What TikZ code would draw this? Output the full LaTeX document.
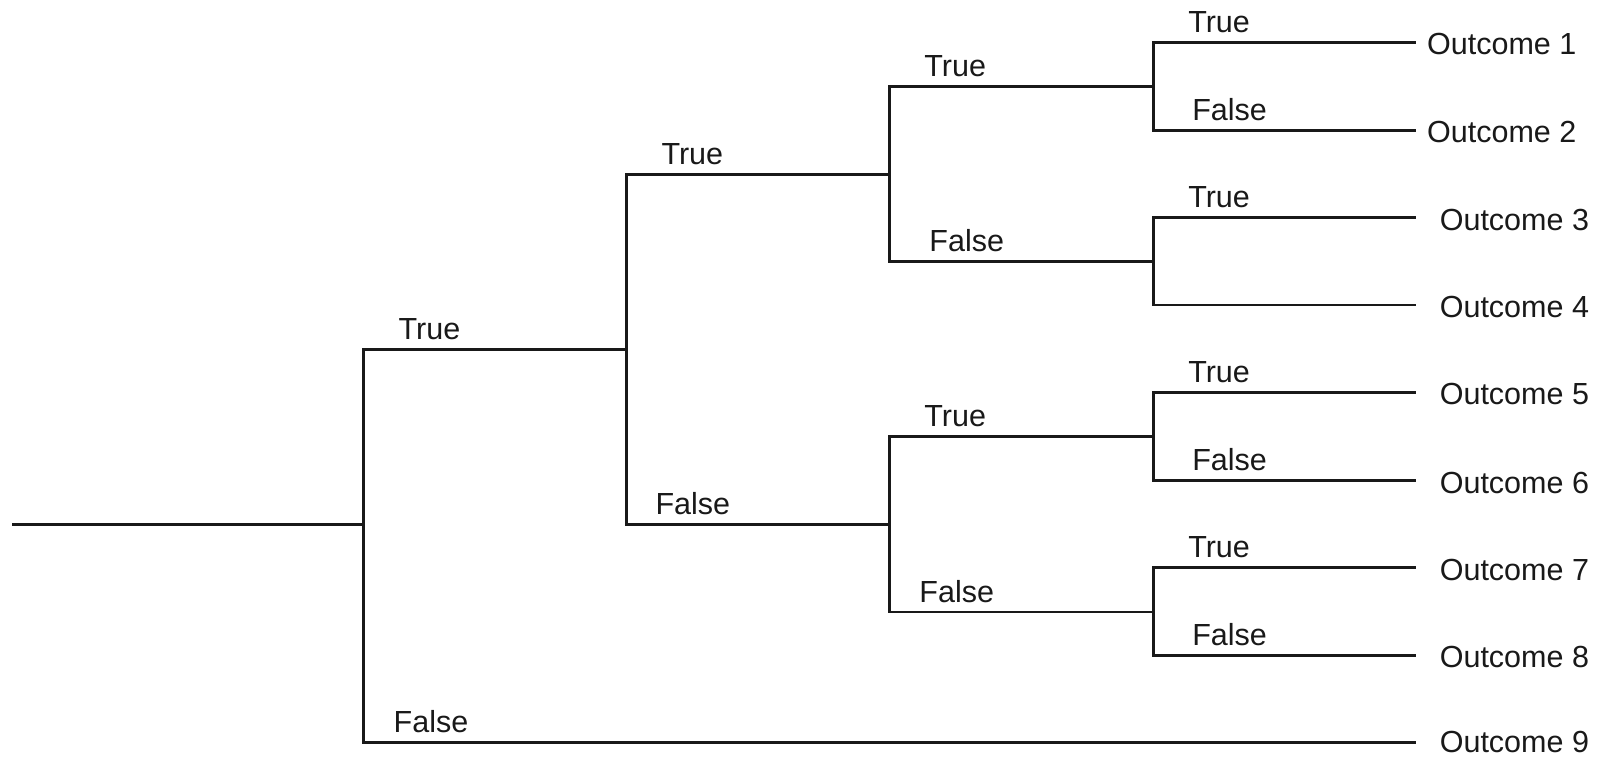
\documentclass[tikz,border=0pt]{standalone}
\usepackage{fontspec}
\setmainfont{Liberation Sans}
\begin{document}
\begin{tikzpicture}[x=1pt,y=-1pt,
  every node/.style={font=\fontsize{30.5}{36}\selectfont, inner sep=0pt, text=black!90},
  branch/.style={line width=2.8pt, line cap=rect, draw=black!90},
  lbl/.style={anchor=base west},
  outc/.style={anchor=west}]
\useasboundingbox (0,0) rectangle (1610,758);
% junction coordinates
\coordinate (r0) at (13.3,524.7);
\coordinate (a) at (363.5,524.7);
\coordinate (aT) at (363.5,349.1);
\coordinate (aF) at (363.5,742.4);
\coordinate (b) at (626.3,349.1);
\coordinate (bT) at (626.3,174.6);
\coordinate (bF) at (626.3,524.7);
\coordinate (c1) at (889.2,174.6);
\coordinate (c1T) at (889.2,86.3);
\coordinate (c1F) at (889.2,261.8);
\coordinate (c2) at (889.2,524.7);
\coordinate (c2T) at (889.2,436.4);
\coordinate (c2F) at (889.2,612.0);
\coordinate (d1) at (1153.1,86.3);
\coordinate (d1T) at (1153.1,42.1);
\coordinate (d1F) at (1153.1,130.4);
\coordinate (d2) at (1153.1,261.8);
\coordinate (d2T) at (1153.1,217.7);
\coordinate (d2F) at (1153.1,305.0);
\coordinate (d3) at (1153.1,436.4);
\coordinate (d3T) at (1153.1,392.2);
\coordinate (d3F) at (1153.1,480.5);
\coordinate (d4) at (1153.1,612.0);
\coordinate (d4T) at (1153.1,567.8);
\coordinate (d4F) at (1153.1,655.1);
% leaf ends
\coordinate (e1) at (1415,42.1);
\coordinate (e2) at (1415,130.4);
\coordinate (e3) at (1415,217.7);
\coordinate (e4) at (1415,305.0);
\coordinate (e5) at (1415,392.2);
\coordinate (e6) at (1415,480.5);
\coordinate (e7) at (1415,567.8);
\coordinate (e8) at (1415,655.1);
\coordinate (e9) at (1415,742.4);
% connectors
\draw[branch] (r0) -- (a);
\draw[branch] (aT) -- (aF);
\draw[branch] (aT) -- (b);
\draw[branch] (aF) -- (e9);
\draw[branch] (bT) -- (bF);
\draw[branch] (bT) -- (c1);
\draw[branch] (bF) -- (c2);
\draw[branch] (c1T) -- (c1F);
\draw[branch] (c2T) -- (c2F);
\draw[branch] (c1T) -- (d1);
\draw[branch] (c1F) -- (d2);
\draw[branch] (c2T) -- (d3);
\draw[branch] (c2F) -- (d4);
\draw[branch] (d1T) -- (d1F);
\draw[branch] (d2T) -- (d2F);
\draw[branch] (d3T) -- (d3F);
\draw[branch] (d4T) -- (d4F);
\draw[branch] (d1T) -- (e1);
\draw[branch] (d1F) -- (e2);
\draw[branch] (d2T) -- (e3);
\draw[branch] (d2F) -- (e4);
\draw[branch] (d3T) -- (e5);
\draw[branch] (d3F) -- (e6);
\draw[branch] (d4T) -- (e7);
\draw[branch] (d4F) -- (e8);
% branch labels
\node[lbl] (laT) at (398.5,339.1) {True};
\node[lbl] (laF) at (393.5,732.4) {False};
\node[lbl] (lbT) at (661.3,164.6) {True};
\node[lbl] (lbF) at (655.3,514.7) {False};
\node[lbl] (lc1T) at (924.2,76.3) {True};
\node[lbl] (lc1F) at (929.2,251.8) {False};
\node[lbl] (lc2T) at (924.2,426.4) {True};
\node[lbl] (lc2F) at (919.2,602.0) {False};
\node[lbl] (ld1T) at (1188.1,32.1) {True};
\node[lbl] (ld1F) at (1192.1,120.4) {False};
\node[lbl] (ld2T) at (1188.1,207.7) {True};
\node[lbl] (ld3T) at (1188.1,382.2) {True};
\node[lbl] (ld3F) at (1192.1,470.5) {False};
\node[lbl] (ld4T) at (1188.1,557.8) {True};
\node[lbl] (ld4F) at (1192.1,645.1) {False};
% outcomes
\node[outc] (o1) at (1427,44.1) {Outcome 1};
\node[outc] (o2) at (1427,132.4) {Outcome 2};
\node[outc] (o3) at (1439.6,219.7) {Outcome 3};
\node[outc] (o4) at (1439.6,307.0) {Outcome 4};
\node[outc] (o5) at (1439.6,394.2) {Outcome 5};
\node[outc] (o6) at (1439.6,482.5) {Outcome 6};
\node[outc] (o7) at (1439.6,569.8) {Outcome 7};
\node[outc] (o8) at (1439.6,657.1) {Outcome 8};
\node[outc] (o9) at (1439.6,742.0) {Outcome 9};
\end{tikzpicture}
\end{document}
